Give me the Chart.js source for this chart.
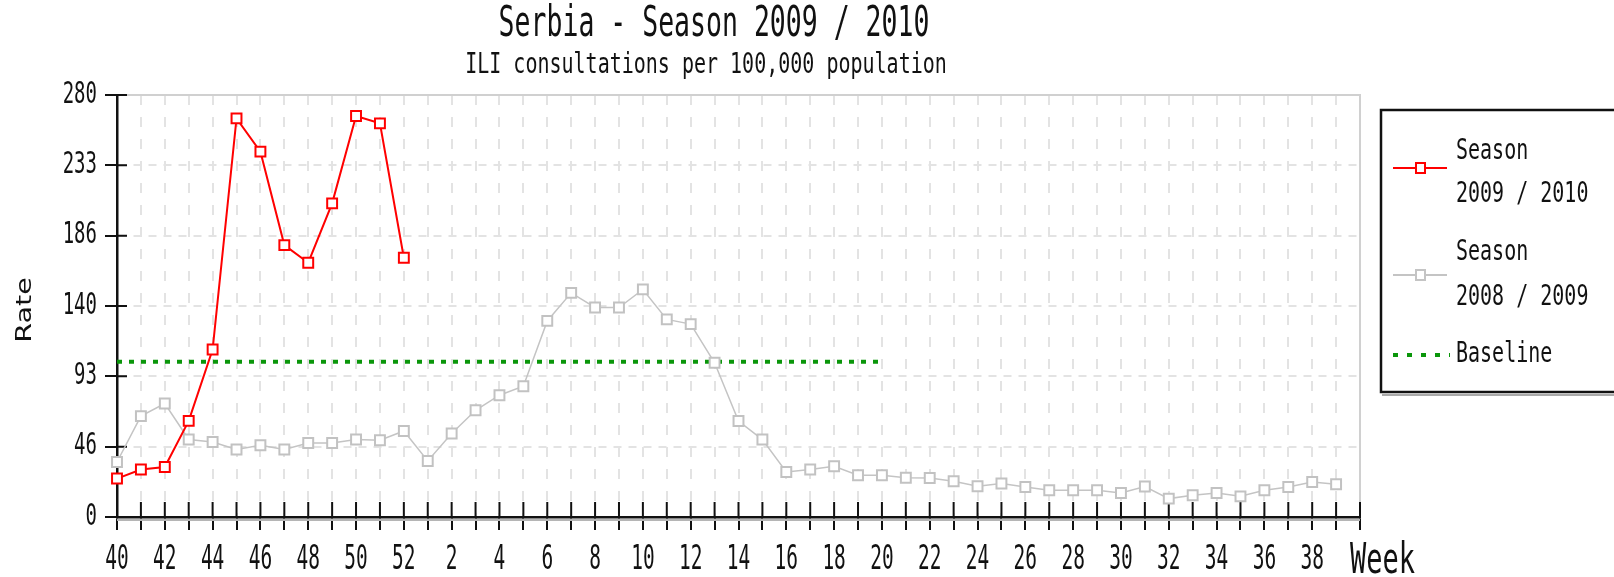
<!DOCTYPE html>
<html>
<head>
<meta charset="utf-8">
<title>Serbia - Season 2009 / 2010</title>
<script src="https://cdn.jsdelivr.net/npm/chart.js@4.4.1/dist/chart.umd.min.js"></script>
<style>
  html, body { margin: 0; padding: 0; background: #fff; }
  #wrap { width: 1614px; height: 577px; }
</style>
</head>
<body>
<div id="wrap"><canvas id="chart" width="1614" height="577"></canvas></div>
<script>
// weeks of the season, 40 .. 52 then 1 .. 39
const weeks = [40, 41, 42, 43, 44, 45, 46, 47, 48, 49, 50, 51, 52,
  1, 2, 3, 4, 5, 6, 7, 8, 9, 10, 11, 12, 13, 14, 15, 16, 17, 18, 19, 20,
  21, 22, 23, 24, 25, 26, 27, 28, 29, 30, 31, 32, 33, 34, 35, 36, 37, 38, 39];

// season 2009 / 2010 (only up to week 52)
const season0910 = [25.5, 31.5, 33.2, 63.8, 111.1, 264.5, 242.4, 180.4, 168.7, 208.1, 266.1, 261.2, 172];

// season 2008 / 2009
const season0809 = [36.5, 66.9, 75.3, 51.4, 49.8, 44.8, 47.6, 44.8, 49.1, 49.1, 51.4, 50.9, 57.1,
  37.2, 55.4, 70.8, 80.8, 86.8, 130.1, 148.7, 139, 139, 151, 131.1, 128, 102.3, 63.7, 51.4,
  29.9, 31.5, 33.7, 27.7, 27.7, 26, 25.9, 23.7, 20.4, 22.2, 19.9, 17.7, 17.7, 17.7, 15.9,
  20.2, 12.2, 14.4, 15.9, 13.7, 17.7, 19.9, 23.2, 21.7];

// baseline, drawn from week 40 to week 20
const baselineValue = 103;
const baselineLastWeek = 20;

const yTickValues = [0, 46.67, 93.33, 140, 186.67, 233.33, 280];
const yTickLabels = ["0", "46", "93", "140", "186", "233", "280"];

const titleText = "Serbia - Season 2009 / 2010";
const subtitleText = "ILI consultations per 100,000 population";
const legendSeason0910 = ["Season", "2009 / 2010"];
const legendSeason0809 = ["Season", "2008 / 2009"];
const legendBaseline = "Baseline";

const mono = "'DejaVu Sans Mono', 'Liberation Mono', monospace";

const lastBaselineIndex = weeks.indexOf(baselineLastWeek);
const baseline = weeks.slice(0, lastBaselineIndex + 1).map(() => baselineValue);

// one extra empty slot so the axis runs one week past week 39
const labels = weeks.concat([""]);

function tallText(ctx, text, x, y, size, align, sy, family) {
  ctx.save();
  ctx.translate(x, y);
  ctx.scale(1, sy);
  ctx.font = size + "px " + (family || mono);
  ctx.textAlign = align;
  ctx.textBaseline = "middle";
  ctx.fillStyle = "#111";
  ctx.fillText(text, 0, 0);
  ctx.restore();
}

const decorations = {
  id: "decorations",
  beforeDatasetsDraw(chart) {
    const { ctx, chartArea: a, scales: { x, y } } = chart;
    ctx.save();
    // solid light frame on top and right
    ctx.strokeStyle = "#d0d0d0";
    ctx.lineWidth = 2;
    ctx.beginPath();
    ctx.moveTo(a.left, a.top);
    ctx.lineTo(a.right, a.top);
    ctx.lineTo(a.right, a.bottom);
    ctx.stroke();

    // grey shadow under the x axis
    ctx.strokeStyle = "#b5b5b5";
    ctx.beginPath();
    ctx.moveTo(a.left, a.bottom + 3);
    ctx.lineTo(a.right, a.bottom + 3);
    ctx.stroke();

    // tick marks crossing into the plot
    ctx.strokeStyle = "#111";
    ctx.beginPath();
    x.ticks.forEach((t, i) => {
      const px = x.getPixelForTick(i);
      ctx.moveTo(px, a.bottom);
      ctx.lineTo(px, a.bottom - 15);
    });
    y.ticks.forEach((t) => {
      const py = y.getPixelForValue(t.value);
      ctx.moveTo(a.left, py);
      ctx.lineTo(a.left + 10, py);
    });
    ctx.stroke();
    ctx.restore();
  },
  afterDraw(chart) {
    const { ctx, chartArea: a, scales: { x, y } } = chart;

    tallText(ctx, titleText, 714, 25, 26.5, "center", 1.6);
    tallText(ctx, subtitleText, 706, 65, 20, "center", 1.45);

    // tick labels
    x.ticks.forEach((t, i) => {
      const w = labels[i];
      if (w !== "" && w % 2 === 0) {
        tallText(ctx, String(w), x.getPixelForTick(i), 560, 19.5, "center", 1.7);
      }
    });
    y.ticks.forEach((t, i) => {
      tallText(ctx, yTickLabels[i], 97, y.getPixelForValue(t.value), 19, "right", 1.55);
    });

    tallText(ctx, "Week", 1350, 562, 27, "left", 1.6);

    // y axis title
    ctx.save();
    ctx.translate(25, 310);
    ctx.rotate(-Math.PI / 2);
    ctx.scale(1.3, 1);
    ctx.font = "22px 'DejaVu Sans', sans-serif";
    ctx.textAlign = "center";
    ctx.textBaseline = "middle";
    ctx.fillStyle = "#111";
    ctx.fillText("Rate", 0, 0);
    ctx.restore();

    // legend box
    const ds = chart.data.datasets;
    ctx.save();
    ctx.strokeStyle = "#aaa";
    ctx.lineWidth = 2;
    ctx.beginPath();
    ctx.moveTo(1382, 395);
    ctx.lineTo(1614, 395);
    ctx.stroke();
    ctx.strokeStyle = "#111";
    ctx.lineWidth = 2.5;
    ctx.strokeRect(1381, 110, 260, 282);

    // season 2009 / 2010
    ctx.strokeStyle = ds[0].borderColor;
    ctx.lineWidth = 2;
    ctx.beginPath();
    ctx.moveTo(1393, 168);
    ctx.lineTo(1447, 168);
    ctx.stroke();
    ctx.fillStyle = "#fff";
    ctx.fillRect(1416, 163, 9, 10);
    ctx.strokeRect(1416, 163, 9, 10);

    // season 2008 / 2009
    ctx.strokeStyle = ds[1].borderColor;
    ctx.beginPath();
    ctx.moveTo(1393, 275);
    ctx.lineTo(1447, 275);
    ctx.stroke();
    ctx.fillRect(1416, 270, 9, 10);
    ctx.strokeRect(1416, 270, 9, 10);

    // baseline
    ctx.strokeStyle = ds[2].borderColor;
    ctx.lineWidth = 4;
    ctx.setLineDash([5, 9]);
    ctx.beginPath();
    ctx.moveTo(1393, 355);
    ctx.lineTo(1450, 355);
    ctx.stroke();
    ctx.restore();

    tallText(ctx, legendSeason0910[0], 1456, 152, 20, "left", 1.4);
    tallText(ctx, legendSeason0910[1], 1456, 195, 20, "left", 1.4);
    tallText(ctx, legendSeason0809[0], 1456, 253, 20, "left", 1.4);
    tallText(ctx, legendSeason0809[1], 1456, 298, 20, "left", 1.4);
    tallText(ctx, legendBaseline, 1456, 355, 20, "left", 1.4);
  }
};

const chart = new Chart(document.getElementById("chart"), {
  type: "line",
  data: {
    labels: labels,
    datasets: [
      {
        label: legendSeason0910.join(" "),
        data: season0910,
        borderColor: "#ff0000",
        borderWidth: 2,
        pointStyle: "rect",
        pointRadius: 7,
        pointBorderWidth: 2,
        pointBorderColor: "#ff0000",
        pointBackgroundColor: "#ffffff",
        tension: 0,
      },
      {
        label: legendSeason0809.join(" "),
        data: season0809,
        borderColor: "#c4c4c4",
        borderWidth: 1.5,
        pointStyle: "rect",
        pointRadius: 7,
        pointBorderWidth: 2,
        pointBorderColor: "#c2c2c2",
        pointBackgroundColor: "#ffffff",
        tension: 0,
      },
      {
        label: legendBaseline,
        data: baseline,
        borderColor: "#0a960a",
        borderWidth: 4,
        borderDash: [5, 7],
        borderCapStyle: "butt",
        pointRadius: 0,
        tension: 0,
      },
    ],
  },
  options: {
    responsive: false,
    animation: false,
    events: [],
    layout: {
      padding: { left: 0, right: 254, top: 95, bottom: 0 },
    },
    scales: {
      x: {
        type: "category",
        offset: false,
        afterFit: (scale) => { scale.height = 60; },
        grid: {
          color: "#e3e3e3",
          lineWidth: 2,
          tickColor: "#111",
          tickWidth: 2,
          tickLength: 13,
          offset: false,
        },
        border: { color: "#111", width: 2.5, dash: [10, 12] },
        ticks: { display: false, autoSkip: false, maxRotation: 0 },
      },
      y: {
        min: 0,
        max: 280,
        afterFit: (scale) => { scale.width = 117; },
        afterBuildTicks: (scale) => {
          scale.ticks = yTickValues.map((v) => ({ value: v }));
        },
        grid: {
          color: "#e3e3e3",
          lineWidth: 2,
          tickColor: "#111",
          tickWidth: 2,
          tickLength: 12,
        },
        border: { color: "#111", width: 2.5, dash: [8, 7] },
        ticks: { display: false },
      },
    },
    plugins: {
      legend: { display: false },
      title: { display: false },
      tooltip: { enabled: false },
    },
  },
  plugins: [decorations],
});
</script>
</body>
</html>
